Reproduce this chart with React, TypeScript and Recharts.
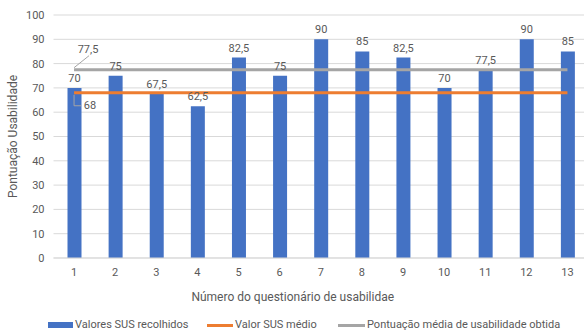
import React from "react";
import { ComposedChart, Bar, Line, XAxis, YAxis, CartesianGrid, LabelList, Label } from "recharts";

const categories = ["1", "2", "3", "4", "5", "6", "7", "8", "9", "10", "11", "12", "13"];
const susValues = [70, 75, 67.5, 62.5, 82.5, 75, 90, 85, 82.5, 70, 77.5, 90, 85];
const susMean = [68, 68, 68, 68, 68, 68, 68, 68, 68, 68, 68, 68, 68];
const obtainedMean = [77.5, 77.5, 77.5, 77.5, 77.5, 77.5, 77.5, 77.5, 77.5, 77.5, 77.5, 77.5, 77.5];
const yTicks = [0, 10, 20, 30, 40, 50, 60, 70, 80, 90, 100];

const data = categories.map((c, i) => ({
  cat: c,
  sus: susValues[i],
  media: susMean[i],
  obtida: obtainedMean[i],
}));

const FONT = "Roboto, 'Liberation Sans', sans-serif";
const TEXT = "#595959";
const fmt = (v: number) => String(v).replace(".", ",");

const GrayLabel = (props: any) => {
  const { x, y, value, index } = props;
  if (index !== 0) return null;
  return (
    <g>
      <line x1={x} y1={y - 2} x2={x + 15} y2={y - 14} stroke="#a5a5a5" strokeWidth={1} />
      <text x={x + 14} y={y - 20} textAnchor="middle" dominantBaseline="central" fontSize={11} fill={TEXT} fontFamily={FONT}>
        {fmt(value)}
      </text>
    </g>
  );
};

const OrangeLabel = (props: any) => {
  const { x, y, value, index } = props;
  if (index !== 0) return null;
  return (
    <g>
      <polyline points={`${x},${y + 2} ${x},${y + 13} ${x + 7},${y + 13}`} fill="none" stroke="#a5a5a5" strokeWidth={1} />
      <text x={x + 16} y={y + 13} textAnchor="middle" dominantBaseline="central" fontSize={11} fill={TEXT} fontFamily={FONT}>
        {fmt(value)}
      </text>
    </g>
  );
};

export default function App() {
  return (
    <div style={{ position: "absolute", left: 0, top: 0, width: 584, height: 331, overflow: "hidden", background: "#fff" }}>
      <ComposedChart
        width={588}
        height={331}
        data={data}
        margin={{ top: 15, right: 0, left: 0, bottom: 0 }}
        barCategoryGap={0}
      >
        <CartesianGrid vertical={false} stroke="#d9d9d9" />
        <XAxis
          dataKey="cat"
          height={73}
          tickLine={false}
          tickSize={0}
          tickMargin={10}
          axisLine={{ stroke: "#d9d9d9" }}
          tick={{ fontSize: 11, fill: TEXT, fontFamily: FONT }}
          interval={0}
        >
          <Label
            value="Número do questionário de usabilidae"
            position="insideTop"
            dx={-28}
            dy={29}
            style={{ fontSize: 12, fill: TEXT, fontFamily: FONT }}
          />
        </XAxis>
        <YAxis
          width={53.5}
          domain={[0, 100]}
          ticks={yTicks}
          tickLine={false}
          axisLine={false}
          tickSize={0}
          tickMargin={9}
          tick={{ fontSize: 11, fill: TEXT, fontFamily: FONT }}
        >
          <Label
            value="Pontuação Usabilidade"
            angle={-90}
            position="insideLeft"
            dx={8}
            style={{ fontSize: 12, fill: TEXT, fontFamily: FONT, textAnchor: "middle" }}
          />
        </YAxis>
        <Bar dataKey="sus" fill="#4472c4" barSize={14} isAnimationActive={false}>
          <LabelList
            dataKey="sus"
            position="top"
            offset={6}
            formatter={(v: any) => fmt(v)}
            style={{ fontSize: 11, fill: TEXT, fontFamily: FONT }}
          />
        </Bar>
        <Line dataKey="media" stroke="#ed7d31" strokeWidth={3} dot={false} isAnimationActive={false}>
          <LabelList dataKey="media" content={OrangeLabel} />
        </Line>
        <Line dataKey="obtida" stroke="#a5a5a5" strokeWidth={3} dot={false} isAnimationActive={false}>
          <LabelList dataKey="obtida" content={GrayLabel} />
        </Line>
      </ComposedChart>
      <div style={{ position: "absolute", top: 318, left: 0, width: 584, height: 14, fontFamily: FONT, fontSize: 11, color: TEXT }}>
        <div style={{ position: "absolute", left: 48, top: 4, width: 25, height: 6, background: "#4472c4" }} />
        <div style={{ position: "absolute", left: 75, top: 0, whiteSpace: "nowrap", lineHeight: "14px" }}>Valores SUS recolhidos</div>
        <div style={{ position: "absolute", left: 207, top: 6, width: 26, height: 3, background: "#ed7d31" }} />
        <div style={{ position: "absolute", left: 235, top: 0, whiteSpace: "nowrap", lineHeight: "14px" }}>Valor SUS médio</div>
        <div style={{ position: "absolute", left: 338, top: 6, width: 27, height: 3, background: "#a5a5a5" }} />
        <div style={{ position: "absolute", left: 367, top: 0, whiteSpace: "nowrap", lineHeight: "14px" }}>Pontuação média de usabilidade obtida</div>
      </div>
    </div>
  );
}
